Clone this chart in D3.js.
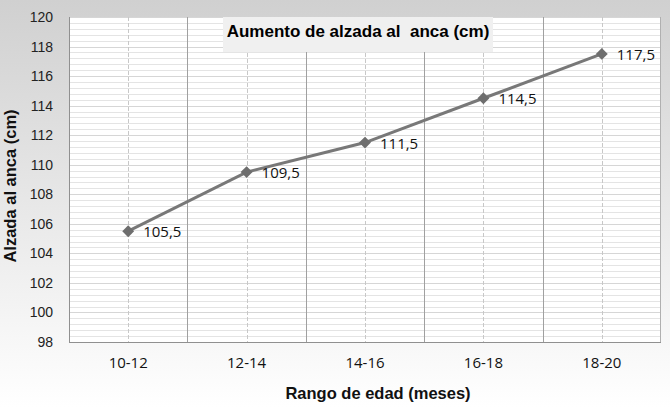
<!DOCTYPE html>
<html>
<head>
<meta charset="utf-8">
<script src="https://cdn.jsdelivr.net/npm/d3@7"></script>
<style>
  body { margin: 0; padding: 0; overflow: hidden; }
  #chart { width: 670px; height: 407px; }
</style>
</head>
<body>
<div id="chart"></div>
<script>
// Alzada al anca por rango de edad
const categories = ["10-12", "12-14", "14-16", "16-18", "18-20"];
const alzada = [105.5, 109.5, 111.5, 114.5, 117.5];
const valueLabels = ["105,5", "109,5", "111,5", "114,5", "117,5"];
const yTicks = [98, 100, 102, 104, 106, 108, 110, 112, 114, 116, 118, 120];

(function () {
  const fullWidth = 670;
  const fullHeight = 407;
  const margin = { top: 17, right: 9, bottom: 65, left: 69 };
  const width = fullWidth - margin.left - margin.right;
  const height = fullHeight - margin.top - margin.bottom;

  const root = d3
    .select("#chart")
    .append("svg")
    .attr("width", fullWidth)
    .attr("height", fullHeight)
    .style("display", "block");

  // Background gradient
  const grad = root
    .append("defs")
    .append("linearGradient")
    .attr("id", "bg")
    .attr("x1", 0).attr("y1", 0).attr("x2", 0).attr("y2", 1);
  grad.append("stop").attr("offset", "0%").attr("stop-color", "#d0d0d0");
  grad.append("stop").attr("offset", "100%").attr("stop-color", "#ffffff");

  root
    .append("rect")
    .attr("width", fullWidth)
    .attr("height", fullHeight)
    .attr("fill", "url(#bg)");

  const svg = root
    .append("g")
    .attr("transform", `translate(${margin.left},${margin.top})`);

  // Scales
  const x = d3.scaleBand().domain(categories).range([0, width]);
  const y = d3.scaleLinear().domain([98, 120]).range([height, 0]);

  // Plot area
  svg
    .append("rect")
    .attr("width", width)
    .attr("height", height)
    .attr("fill", "#ffffff");

  // Minor horizontal gridlines
  const minor = d3.range(98, 120.001, 0.4);
  svg
    .append("g")
    .selectAll("line")
    .data(minor)
    .enter()
    .append("line")
    .attr("x1", 0)
    .attr("x2", width)
    .attr("y1", (d) => Math.round(y(d)) + 0.5)
    .attr("y2", (d) => Math.round(y(d)) + 0.5)
    .style("stroke", "#e4e4e4")
    .style("stroke-width", 1);

  // Major horizontal gridlines
  svg
    .append("g")
    .selectAll("line")
    .data(yTicks)
    .enter()
    .append("line")
    .attr("x1", 0)
    .attr("x2", width)
    .attr("y1", (d) => Math.round(y(d)) + 0.5)
    .attr("y2", (d) => Math.round(y(d)) + 0.5)
    .style("stroke", "#d6d6d6")
    .style("stroke-width", 1);

  // Dashed vertical lines at category centers
  svg
    .append("g")
    .selectAll("line")
    .data(categories)
    .enter()
    .append("line")
    .attr("x1", (d) => Math.round(x(d) + x.bandwidth() / 2) + 0.5)
    .attr("x2", (d) => Math.round(x(d) + x.bandwidth() / 2) + 0.5)
    .attr("y1", 0)
    .attr("y2", height)
    .style("stroke", "#c8c8c8")
    .style("stroke-dasharray", "4,2")
    .style("stroke-width", 1);

  // Solid vertical lines at category boundaries
  svg
    .append("g")
    .selectAll("line")
    .data(categories.slice(1))
    .enter()
    .append("line")
    .attr("x1", (d) => Math.round(x(d)) + 0.5)
    .attr("x2", (d) => Math.round(x(d)) + 0.5)
    .attr("y1", 0)
    .attr("y2", height)
    .style("stroke", "#a0a0a0")
    .style("stroke-width", 1);

  // Borders
  svg
    .append("line")
    .attr("x1", 0.5).attr("x2", 0.5)
    .attr("y1", 0).attr("y2", height)
    .style("stroke", "#909090");
  svg
    .append("line")
    .attr("x1", width - 0.5).attr("x2", width - 0.5)
    .attr("y1", 0).attr("y2", height)
    .style("stroke", "#b0b0b0");
  svg
    .append("line")
    .attr("x1", 0).attr("x2", width)
    .attr("y1", height + 0.5).attr("y2", height + 0.5)
    .style("stroke", "#909090");

  // Y axis labels
  const yAxis = svg
    .append("g")
    .call(d3.axisLeft(y).tickValues(yTicks).tickSize(0).tickPadding(16));
  yAxis.select(".domain").remove();
  yAxis
    .selectAll("text")
    .style("font-family", "Liberation Sans, Arial, sans-serif")
    .style("font-size", "14px")
    .style("fill", "#222");

  // X axis labels
  const xAxis = svg
    .append("g")
    .attr("transform", `translate(0,${height})`)
    .call(d3.axisBottom(x).tickSize(0).tickPadding(15));
  xAxis.select(".domain").remove();
  xAxis
    .selectAll("text")
    .style("font-family", "Open Sans, DejaVu Sans, sans-serif")
    .style("font-size", "15px")
    .style("fill", "#111");

  // Title box
  svg
    .append("rect")
    .attr("x", 223 - margin.left)
    .attr("y", 0)
    .attr("width", 270)
    .attr("height", 35)
    .attr("fill", "#f0f0f0");

  svg
    .append("text")
    .attr("x", 358 - margin.left)
    .attr("y", 20)
    .style("text-anchor", "middle")
    .style("font-family", "Liberation Sans, Arial, sans-serif")
    .style("font-weight", "bold")
    .style("font-size", "17px")
    .style("fill", "#000")
    .attr("xml:space", "preserve")
    .text("Aumento de alzada al  anca (cm)");

  // Axis titles
  root
    .append("text")
    .attr("x", 378)
    .attr("y", 399)
    .style("text-anchor", "middle")
    .style("font-family", "Liberation Sans, Arial, sans-serif")
    .style("font-weight", "bold")
    .style("font-size", "16.5px")
    .style("fill", "#111")
    .text("Rango de edad (meses)");

  root
    .append("text")
    .attr("transform", "rotate(-90)")
    .attr("x", -186)
    .attr("y", 16)
    .style("text-anchor", "middle")
    .style("font-family", "Liberation Sans, Arial, sans-serif")
    .style("font-weight", "bold")
    .style("font-size", "16.5px")
    .style("fill", "#111")
    .text("Alzada al anca (cm)");

  // Line
  const cx = (i) => x(categories[i]) + x.bandwidth() / 2;
  const line = d3
    .line()
    .x((d, i) => cx(i))
    .y((d) => y(d));

  svg
    .append("path")
    .datum(alzada)
    .attr("d", line)
    .attr("fill", "none")
    .style("stroke", "#787878")
    .style("stroke-width", 3);

  // Diamond markers
  svg
    .selectAll(".marker")
    .data(alzada)
    .enter()
    .append("path")
    .attr("class", "marker")
    .attr("transform", (d, i) => `translate(${cx(i)},${y(d)})`)
    .attr("d", d3.symbol().type(d3.symbolDiamond2).size(90))
    .style("fill", "#6e6e6e");

  // Value labels
  svg
    .selectAll(".vlabel")
    .data(alzada)
    .enter()
    .append("text")
    .attr("class", "vlabel")
    .attr("x", (d, i) => cx(i) + 15)
    .attr("y", (d) => y(d) + 6)
    .style("font-family", "Open Sans, DejaVu Sans, sans-serif")
    .style("font-size", "15px")
    .style("fill", "#111")
    .text((d, i) => valueLabels[i]);
})();
</script>
</body>
</html>
